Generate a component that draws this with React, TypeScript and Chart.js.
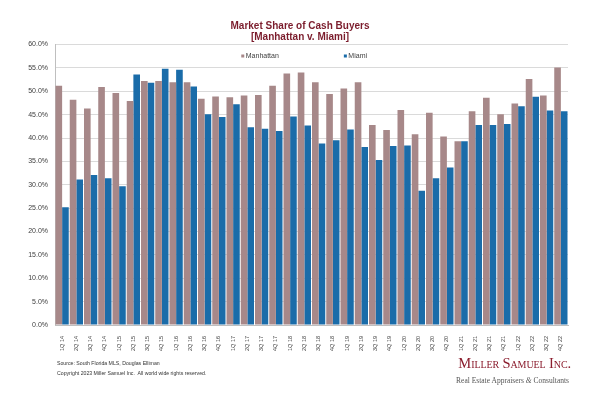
import React, { useEffect, useRef } from "react";
import { Chart, registerables } from "chart.js";

Chart.register(...registerables);

const quarters: string[] = [
  "1Q 14", "2Q 14", "3Q 14", "4Q 14",
  "1Q 15", "2Q 15", "3Q 15", "4Q 15",
  "1Q 16", "2Q 16", "3Q 16", "4Q 16",
  "1Q 17", "2Q 17", "3Q 17", "4Q 17",
  "1Q 18", "2Q 18", "3Q 18", "4Q 18",
  "1Q 19", "2Q 19", "3Q 19", "4Q 19",
  "1Q 20", "2Q 20", "3Q 20", "4Q 20",
  "1Q 21", "2Q 21", "3Q 21", "4Q 21",
  "1Q 22", "2Q 22", "3Q 22", "4Q 22",
];

const manhattan: number[] = [
  51.2, 48.2, 46.3, 50.9,
  49.6, 47.9, 52.2, 52.2,
  51.9, 51.9, 48.4, 48.9,
  48.7, 49.1, 49.2, 51.2,
  53.8, 54.0, 51.9, 49.4,
  50.6, 51.9, 42.8, 41.7,
  46.0, 40.8, 45.4, 40.3,
  39.3, 45.7, 48.6, 45.1,
  47.4, 52.6, 49.1, 55.1,
];

const miami: number[] = [
  25.2, 31.1, 32.1, 31.4,
  29.7, 53.6, 51.8, 54.8,
  54.6, 51.0, 45.1, 44.5,
  47.2, 42.3, 42.0, 41.5,
  44.6, 42.7, 38.8, 39.5,
  41.8, 38.1, 35.3, 38.3,
  38.4, 28.7, 31.4, 33.7,
  39.3, 42.8, 42.8, 43.0,
  46.8, 48.8, 45.9, 45.7,
];

const seriesNames: string[] = ["Manhattan", "Miami"];
const seriesColors: string[] = ["#A78889", "#1A6CA9"];
const legendFractions: number[] = [0.366, 0.566];
const titleLines: string[] = ["Market Share of Cash Buyers", "[Manhattan v. Miami]"];

const SANS = "'Liberation Sans', Arial, sans-serif";
const SERIF = "'Liberation Serif', 'Times New Roman', serif";

const insideLegend = {
  id: "insideLegend",
  afterDatasetsDraw(chart: any) {
    const { ctx, chartArea } = chart;
    const w = chartArea.right - chartArea.left;
    ctx.save();
    chart.data.datasets.forEach((ds: any, i: number) => {
      const x = chartArea.left + w * legendFractions[i];
      const y = chartArea.top + 11.5;
      ctx.fillStyle = ds.backgroundColor;
      ctx.fillRect(x - 1.5, y - 1.5, 3, 3);
      ctx.fillStyle = "#404040";
      ctx.font = `7px ${SANS}`;
      ctx.textBaseline = "middle";
      ctx.textAlign = "left";
      ctx.fillText(ds.label, x + 3, y + 0.5);
    });
    ctx.restore();
  },
};

export default function App() {
  const canvasRef = useRef<HTMLCanvasElement | null>(null);

  useEffect(() => {
    if (!canvasRef.current) return;
    const chart = new Chart(canvasRef.current, {
      type: "bar",
      data: {
        labels: quarters,
        datasets: [
          {
            label: seriesNames[0],
            data: manhattan,
            backgroundColor: seriesColors[0],
            categoryPercentage: 0.93,
            barPercentage: 1.0,
            yAxisID: "y",
          },
          {
            label: seriesNames[1],
            data: miami,
            backgroundColor: seriesColors[1],
            categoryPercentage: 0.93,
            barPercentage: 1.0,
            yAxisID: "y",
          },
        ],
      },
      options: {
        responsive: false,
        animation: false,
        devicePixelRatio: 1,
        layout: { padding: { left: 0, right: 0, top: 0, bottom: 0 } },
        plugins: {
          legend: { display: false },
          tooltip: { enabled: false },
          title: {
            display: true,
            text: titleLines,
            color: "#7B1C2C",
            font: { family: SANS, size: 10, weight: "bold", lineHeight: 1.1 },
            padding: { top: 20.5, bottom: 2 },
          },
        },
        scales: {
          x: {
            grid: { display: false },
            border: { display: true, color: "#BFBFBF" },
            ticks: {
              autoSkip: false,
              minRotation: 90,
              maxRotation: 90,
              padding: 3,
              color: "#404040",
              font: { family: SANS, size: 5.5 },
            },
            afterFit: (scale: any) => {
              scale.height = 72;
            },
          },
          y: {
            min: 0,
            max: 60,
            grid: { color: "#DADADA", drawTicks: false },
            border: { display: true, color: "#BFBFBF" },
            ticks: {
              stepSize: 5,
              padding: 7,
              color: "#404040",
              font: { family: SANS, size: 7 },
              callback: (v: any) => Number(v).toFixed(1) + "%",
            },
            afterFit: (scale: any) => {
              scale.width = 55;
            },
          },
          yRight: {
            position: "right",
            display: true,
            grid: { display: false, drawTicks: false },
            border: { display: false },
            ticks: { display: false },
            afterFit: (scale: any) => {
              scale.width = 32;
            },
          },
        },
      },
      plugins: [insideLegend],
    });
    return () => chart.destroy();
  }, []);

  return (
    <div style={{ position: "absolute", left: 0, top: 0, width: 600, height: 397, background: "#fff", overflow: "hidden" }}>
      <canvas ref={canvasRef} width={600} height={397} style={{ position: "absolute", left: 0, top: 0 }} />
      <div style={{ position: "absolute", left: 57, top: 360, fontFamily: SANS, fontSize: 5.2, lineHeight: "6px", color: "#333", whiteSpace: "nowrap" }}>
        Source: South Florida MLS, Douglas Elliman
      </div>
      <div style={{ position: "absolute", left: 57, top: 369.5, fontFamily: SANS, fontSize: 5.2, lineHeight: "6px", color: "#333", whiteSpace: "pre" }}>
        Copyright 2023 Miller Samuel Inc.  All world wide rights reserved.
      </div>
      <div style={{ position: "absolute", right: 29, top: 354, fontFamily: SERIF, fontSize: 14.5, lineHeight: "18px", color: "#8B1D2E", fontVariant: "small-caps", whiteSpace: "nowrap", letterSpacing: -0.1 }}>
        Miller Samuel Inc.
      </div>
      <div style={{ position: "absolute", right: 31, top: 375.5, fontFamily: SERIF, fontSize: 7.5, lineHeight: "10px", color: "#555", whiteSpace: "nowrap" }}>
        Real Estate Appraisers <i>&amp;</i> Consultants
      </div>
    </div>
  );
}
